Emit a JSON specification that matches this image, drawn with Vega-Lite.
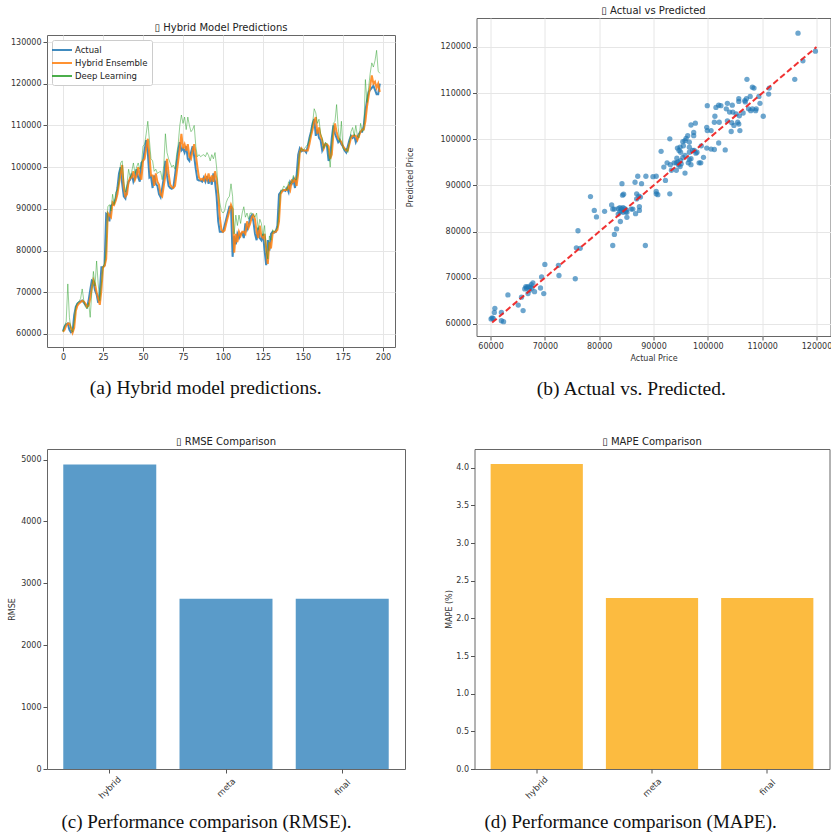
{
"$schema":"https://vega.github.io/schema/vega-lite/v6.json",
"background":"white",
"padding":{"left":6,"top":5,"right":0,"bottom":0},
"config":{
 "font":"DejaVu Sans",
 "view":{"stroke":"#666666","strokeWidth":1},
 "axis":{"labelFont":"DejaVu Sans","labelFontSize":8,"labelColor":"#333333","tickColor":"#555555","tickSize":4,"labelPadding":2,"domain":false,"gridColor":"#e6e6e6","titleFont":"DejaVu Sans","titleFontSize":8,"titleFontWeight":"normal","titleColor":"#333333"},
 "title":{"font":"DejaVu Sans","fontSize":10,"fontWeight":"normal","color":"#222222"}
},
"datasets":{
"ts":[
{"t":0,"a":60700,"h":60500,"d":60500},{"t":1,"a":61800,"h":61000,"d":62000},{"t":2,"a":62300,"h":62000,"d":63000},{"t":3,"a":62500,"h":62500,"d":72000},{"t":4,"a":61000,"h":62500,"d":64000},{"t":5,"a":60400,"h":61500,"d":61000},{"t":6,"a":60600,"h":60300,"d":60500},{"t":7,"a":64500,"h":61500,"d":63000},{"t":8,"a":66500,"h":65500,"d":66500},{"t":9,"a":67300,"h":66800,"d":67500},
{"t":10,"a":67600,"h":67300,"d":67800},{"t":11,"a":67800,"h":67600,"d":68500},{"t":12,"a":68000,"h":68000,"d":70800},{"t":13,"a":67500,"h":67800,"d":68000},{"t":14,"a":67000,"h":67300,"d":66500},{"t":15,"a":66500,"h":66500,"d":66000},{"t":16,"a":68000,"h":66800,"d":67500},{"t":17,"a":70500,"h":68500,"d":64000},{"t":18,"a":72800,"h":71000,"d":70000},{"t":19,"a":72500,"h":73000,"d":75000},
{"t":20,"a":70500,"h":72000,"d":71500},{"t":21,"a":69500,"h":70000,"d":77500},{"t":22,"a":67500,"h":68500,"d":72000},{"t":23,"a":70000,"h":67000,"d":68000},{"t":24,"a":76000,"h":70500,"d":72000},{"t":25,"a":76000,"h":76000,"d":76000},{"t":26,"a":76500,"h":76300,"d":77000},{"t":27,"a":88800,"h":78000,"d":80000},{"t":28,"a":88500,"h":89000,"d":90500},{"t":29,"a":87000,"h":88500,"d":91000},
{"t":30,"a":90800,"h":88000,"d":89500},{"t":31,"a":91000,"h":91500,"d":93500},{"t":32,"a":91500,"h":91000,"d":91000},{"t":33,"a":92500,"h":92000,"d":94000},{"t":34,"a":95000,"h":93500,"d":94500},{"t":35,"a":98500,"h":96000,"d":96500},{"t":36,"a":100000,"h":98500,"d":101000},{"t":37,"a":96000,"h":100500,"d":101500},{"t":38,"a":93000,"h":95000,"d":96500},{"t":39,"a":92500,"h":93000,"d":94000},
{"t":40,"a":95000,"h":93500,"d":96000},{"t":41,"a":96500,"h":96500,"d":99500},{"t":42,"a":97000,"h":97500,"d":97500},{"t":43,"a":98500,"h":97500,"d":99000},{"t":44,"a":96500,"h":99000,"d":101000},{"t":45,"a":97500,"h":97000,"d":98500},{"t":46,"a":99500,"h":98000,"d":100000},{"t":47,"a":97500,"h":100000,"d":101000},{"t":48,"a":96500,"h":98000,"d":99500},{"t":49,"a":101000,"h":97000,"d":100500},
{"t":50,"a":101500,"h":101500,"d":105000},{"t":51,"a":104000,"h":102000,"d":105500},{"t":52,"a":106500,"h":104500,"d":108000},{"t":53,"a":103500,"h":106800,"d":111000},{"t":54,"a":97500,"h":103000,"d":106500},{"t":55,"a":97800,"h":98000,"d":102000},{"t":56,"a":95000,"h":98000,"d":101500},{"t":57,"a":98000,"h":95500,"d":99000},{"t":58,"a":96000,"h":98500,"d":99500},{"t":59,"a":95500,"h":96500,"d":98500},
{"t":60,"a":93500,"h":95800,"d":98800},{"t":61,"a":92800,"h":93500,"d":99000},{"t":62,"a":95000,"h":93000,"d":97000},{"t":63,"a":97500,"h":95500,"d":100500},{"t":64,"a":101500,"h":98000,"d":108000},{"t":65,"a":98000,"h":102000,"d":103500},{"t":66,"a":95500,"h":98500,"d":102000},{"t":67,"a":95000,"h":95800,"d":101000},{"t":68,"a":94800,"h":95200,"d":100000},{"t":69,"a":95200,"h":95000,"d":100500},
{"t":70,"a":98000,"h":95500,"d":99500},{"t":71,"a":101000,"h":98500,"d":103000},{"t":72,"a":104000,"h":101500,"d":105500},{"t":73,"a":106000,"h":104500,"d":110000},{"t":74,"a":104000,"h":108000,"d":112500},{"t":75,"a":104500,"h":104500,"d":110500},{"t":76,"a":103500,"h":105500,"d":112000},{"t":77,"a":105000,"h":104000,"d":109000},{"t":78,"a":102000,"h":105500,"d":112000},{"t":79,"a":101500,"h":102500,"d":110000},
{"t":80,"a":103500,"h":102000,"d":108500},{"t":81,"a":105000,"h":104000,"d":109000},{"t":82,"a":102500,"h":105500,"d":110000},{"t":83,"a":99500,"h":103000,"d":105000},{"t":84,"a":97000,"h":100000,"d":102500},{"t":85,"a":96800,"h":97500,"d":103000},{"t":86,"a":96800,"h":97000,"d":102500},{"t":87,"a":96500,"h":97200,"d":102800},{"t":88,"a":97500,"h":96800,"d":103000},{"t":89,"a":96500,"h":98000,"d":102500},
{"t":90,"a":97800,"h":97000,"d":103500},{"t":91,"a":96000,"h":98500,"d":102800},{"t":92,"a":97500,"h":96500,"d":101500},{"t":93,"a":95800,"h":98000,"d":103000},{"t":94,"a":98500,"h":96500,"d":102000},{"t":95,"a":96500,"h":99000,"d":103500},{"t":96,"a":93000,"h":97000,"d":100000},{"t":97,"a":87000,"h":93500,"d":95000},{"t":98,"a":84500,"h":88000,"d":91500},{"t":99,"a":84500,"h":85000,"d":89500},
{"t":100,"a":84500,"h":84500,"d":89000},{"t":101,"a":86000,"h":84800,"d":89500},{"t":102,"a":87500,"h":86500,"d":91500},{"t":103,"a":89000,"h":88000,"d":92500},{"t":104,"a":90500,"h":89500,"d":93000},{"t":105,"a":90500,"h":91000,"d":96000},{"t":106,"a":78500,"h":90000,"d":93000},{"t":107,"a":83500,"h":79500,"d":84000},{"t":108,"a":81500,"h":84000,"d":88500},{"t":109,"a":84000,"h":82000,"d":86000},
{"t":110,"a":83000,"h":84500,"d":88500},{"t":111,"a":84000,"h":83500,"d":86500},{"t":112,"a":84200,"h":84500,"d":89000},{"t":113,"a":83000,"h":84500,"d":90500},{"t":114,"a":86500,"h":84000,"d":88000},{"t":115,"a":85000,"h":87000,"d":89000},{"t":116,"a":86000,"h":85500,"d":87500},{"t":117,"a":88000,"h":86500,"d":89000},{"t":118,"a":88500,"h":88000,"d":89000},{"t":119,"a":87000,"h":88500,"d":88500},
{"t":120,"a":84000,"h":87500,"d":88000},{"t":121,"a":82500,"h":84500,"d":89000},{"t":122,"a":85500,"h":83000,"d":85000},{"t":123,"a":83000,"h":86000,"d":87500},{"t":124,"a":82500,"h":83500,"d":86500},{"t":125,"a":84000,"h":83000,"d":83500},{"t":126,"a":80000,"h":84000,"d":86000},{"t":127,"a":76500,"h":80500,"d":80000},{"t":128,"a":82500,"h":76800,"d":78000},{"t":129,"a":80000,"h":82000,"d":83500},
{"t":130,"a":84000,"h":80500,"d":82500},{"t":131,"a":84500,"h":84000,"d":85000},{"t":132,"a":84300,"h":84500,"d":84500},{"t":133,"a":84500,"h":84500,"d":85000},{"t":134,"a":86000,"h":85000,"d":85500},{"t":135,"a":93500,"h":87000,"d":89000},{"t":136,"a":94000,"h":93500,"d":94500},{"t":137,"a":94300,"h":94200,"d":94500},{"t":138,"a":94500,"h":94500,"d":95500},{"t":139,"a":94300,"h":94500,"d":95000},
{"t":140,"a":95000,"h":94500,"d":94500},{"t":141,"a":94000,"h":95500,"d":96500},{"t":142,"a":96500,"h":94500,"d":96000},{"t":143,"a":96000,"h":96800,"d":96500},{"t":144,"a":97000,"h":96500,"d":98000},{"t":145,"a":95000,"h":97200,"d":97000},{"t":146,"a":98000,"h":95500,"d":97000},{"t":147,"a":103000,"h":98500,"d":100000},{"t":148,"a":104500,"h":103500,"d":103500},{"t":149,"a":103800,"h":104500,"d":104500},
{"t":150,"a":104000,"h":104000,"d":104000},{"t":151,"a":104000,"h":104000,"d":104500},{"t":152,"a":103500,"h":104000,"d":105000},{"t":153,"a":105000,"h":104000,"d":105500},{"t":154,"a":107000,"h":105500,"d":106500},{"t":155,"a":108500,"h":107500,"d":108500},{"t":156,"a":110500,"h":109000,"d":110500},{"t":157,"a":111500,"h":111000,"d":114000},{"t":158,"a":107500,"h":112000,"d":113000},{"t":159,"a":109000,"h":108000,"d":110500},
{"t":160,"a":107000,"h":109500,"d":111500},{"t":161,"a":106500,"h":107500,"d":108000},{"t":162,"a":104000,"h":106500,"d":107000},{"t":163,"a":105000,"h":104500,"d":104500},{"t":164,"a":105500,"h":105500,"d":106000},{"t":165,"a":105000,"h":105500,"d":105500},{"t":166,"a":101500,"h":105000,"d":103500},{"t":167,"a":102500,"h":102000,"d":100000},{"t":168,"a":107000,"h":103000,"d":105500},{"t":169,"a":110000,"h":108000,"d":110500},
{"t":170,"a":108000,"h":110500,"d":111000},{"t":171,"a":107000,"h":108500,"d":115000},{"t":172,"a":106000,"h":107000,"d":109500},{"t":173,"a":106500,"h":106500,"d":106000},{"t":174,"a":105500,"h":106000,"d":111000},{"t":175,"a":105000,"h":105000,"d":104500},{"t":176,"a":104000,"h":104500,"d":104000},{"t":177,"a":103500,"h":104000,"d":104500},{"t":178,"a":105000,"h":104000,"d":103500},{"t":179,"a":106500,"h":105500,"d":106000},
{"t":180,"a":107500,"h":107000,"d":108500},{"t":181,"a":107000,"h":107500,"d":109500},{"t":182,"a":107500,"h":107500,"d":107500},{"t":183,"a":106000,"h":107500,"d":110000},{"t":184,"a":107000,"h":106500,"d":107500},{"t":185,"a":108000,"h":107500,"d":107000},{"t":186,"a":108500,"h":108500,"d":110500},{"t":187,"a":108500,"h":109000,"d":108500},{"t":188,"a":110000,"h":109000,"d":109000},{"t":189,"a":113500,"h":111000,"d":121000},
{"t":190,"a":116000,"h":114500,"d":115500},{"t":191,"a":118000,"h":117000,"d":119000},{"t":192,"a":118500,"h":119500,"d":122500},{"t":193,"a":119000,"h":122000,"d":125000},{"t":194,"a":119500,"h":120000,"d":124000},{"t":195,"a":118500,"h":120500,"d":125500},{"t":196,"a":117500,"h":119000,"d":128000},{"t":197,"a":117500,"h":120000,"d":123000},{"t":198,"a":120000,"h":118000,"d":122500}
],
"sc":[
{"x":116600,"y":123000},{"x":119800,"y":119100},{"x":117500,"y":117000},{"x":116000,"y":113000},{"x":107200,"y":113000},{"x":108200,"y":111300},{"x":108500,"y":111100},{"x":111300,"y":111100},{"x":111200,"y":109800},{"x":109400,"y":109300},
{"x":107800,"y":109300},{"x":107100,"y":108800},{"x":106800,"y":108400},{"x":106900,"y":108100},{"x":105700,"y":108800},{"x":105700,"y":108200},{"x":99900,"y":107300},{"x":102000,"y":107400},{"x":102400,"y":107300},{"x":103600,"y":107800},
{"x":104500,"y":107400},{"x":109600,"y":107800},{"x":108900,"y":106600},{"x":108800,"y":106200},{"x":110200,"y":105000},{"x":101500,"y":106900},{"x":101300,"y":105000},{"x":103400,"y":106600},{"x":104000,"y":105900},{"x":104600,"y":105900},
{"x":105200,"y":105500},{"x":105800,"y":105100},{"x":106500,"y":105700},{"x":107500,"y":106600},{"x":107900,"y":106200},{"x":108200,"y":106600},{"x":104400,"y":103600},{"x":104800,"y":103000},{"x":104300,"y":101700},{"x":103600,"y":104000},
{"x":105500,"y":103700},{"x":105700,"y":103300},{"x":105900,"y":101900},{"x":102100,"y":103700},{"x":101200,"y":103700},{"x":99800,"y":102600},{"x":99900,"y":101900},{"x":100600,"y":101900},{"x":96900,"y":103100},{"x":97700,"y":103500},
{"x":97400,"y":101500},{"x":97400,"y":100800},{"x":96000,"y":100200},{"x":96300,"y":100800},{"x":95800,"y":99700},{"x":95400,"y":99500},{"x":95500,"y":98600},{"x":94900,"y":98300},{"x":96600,"y":99400},{"x":96600,"y":98300},
{"x":94400,"y":98100},{"x":94700,"y":97600},{"x":95000,"y":97200},{"x":96600,"y":97200},{"x":97200,"y":97600},{"x":97500,"y":97600},{"x":98000,"y":97200},{"x":97800,"y":97000},{"x":99800,"y":98100},{"x":100600,"y":97900},
{"x":101200,"y":97800},{"x":103200,"y":97700},{"x":102000,"y":99200},{"x":93000,"y":100100},{"x":98800,"y":98600},{"x":99200,"y":96100},{"x":91400,"y":97400},{"x":94300,"y":95900},{"x":95000,"y":95400},{"x":94500,"y":95100},
{"x":95400,"y":96100},{"x":95800,"y":96500},{"x":96600,"y":95600},{"x":96900,"y":95800},{"x":92500,"y":94900},{"x":93100,"y":94500},{"x":91900,"y":94000},{"x":93800,"y":94900},{"x":94200,"y":94900},{"x":95100,"y":94700},
{"x":94600,"y":94500},{"x":94900,"y":94100},{"x":96400,"y":94900},{"x":96900,"y":94500},{"x":98400,"y":94900},{"x":98700,"y":94900},{"x":93300,"y":93300},{"x":94200,"y":93300},{"x":95800,"y":92700},{"x":93000,"y":88200},
{"x":90500,"y":88200},{"x":90800,"y":88000},{"x":90500,"y":88700},{"x":89900,"y":91900},{"x":90500,"y":92000},{"x":88600,"y":92000},{"x":87100,"y":92000},{"x":86600,"y":90700},{"x":92200,"y":91100},{"x":87800,"y":90400},
{"x":86900,"y":88200},{"x":87300,"y":87700},{"x":87600,"y":87500},{"x":86900,"y":87100},{"x":84200,"y":90400},{"x":84300,"y":87900},{"x":84500,"y":88100},{"x":78400,"y":87600},{"x":79100,"y":84600},{"x":81000,"y":84400},
{"x":79500,"y":83200},{"x":82300,"y":85800},{"x":82500,"y":84900},{"x":82800,"y":84900},{"x":83500,"y":85000},{"x":83800,"y":85200},{"x":84100,"y":85000},{"x":84400,"y":85200},{"x":84700,"y":85000},{"x":85000,"y":84700},
{"x":84100,"y":84500},{"x":83500,"y":83800},{"x":83800,"y":84300},{"x":84400,"y":84200},{"x":84900,"y":84300},{"x":85900,"y":84900},{"x":85100,"y":84200},{"x":86200,"y":84900},{"x":87400,"y":85400},{"x":87400,"y":84600},
{"x":86700,"y":83900},{"x":85100,"y":83100},{"x":83900,"y":82200},{"x":83200,"y":80600},{"x":82800,"y":79400},{"x":82500,"y":77000},{"x":88500,"y":77000},{"x":76100,"y":80200},{"x":75800,"y":76500},{"x":76500,"y":76400},
{"x":75600,"y":69800},{"x":72500,"y":72700},{"x":72600,"y":70500},{"x":70000,"y":72900},{"x":69400,"y":70200},{"x":69200,"y":67800},{"x":69800,"y":66600},{"x":67500,"y":68500},{"x":67800,"y":68900},{"x":67300,"y":68000},
{"x":66900,"y":68100},{"x":66500,"y":68100},{"x":66300,"y":67600},{"x":66600,"y":67800},{"x":66900,"y":66600},{"x":68100,"y":67000},{"x":67600,"y":67800},{"x":67200,"y":67300},{"x":65700,"y":65800},{"x":65100,"y":64100},
{"x":63200,"y":66300},{"x":66000,"y":62900},{"x":60800,"y":63400},{"x":60700,"y":62500},{"x":60300,"y":61300},{"x":60100,"y":61100},{"x":60500,"y":61200},{"x":62000,"y":62500},{"x":62000,"y":60700},{"x":62400,"y":60500}
],
"diag":[{"x":60300,"y":60300},{"x":120000,"y":120000}],
"perf":[{"model":"hybrid","rmse":4920,"mape":4.05},{"model":"meta","rmse":2750,"mape":2.27},{"model":"final","rmse":2750,"mape":2.27}],
"empty":[]
},
"spacing":38,
"vconcat":[
{"hconcat":[
 {"vconcat":[
  {"width":348,"height":4,"data":{"name":"empty"},"mark":{"type":"point"},"encoding":{},"view":{"stroke":null}},
  {
  "width":348,"height":312,
  "title":{"text":"▯ Hybrid Model Predictions","frame":"group","offset":2},
  "data":{"name":"ts"},
  "transform":[{"fold":["a","h","d"],"as":["series","price"]}],
  "mark":{"type":"line"},
  "encoding":{
   "x":{"field":"t","type":"quantitative","scale":{"domain":[-10,207.5],"nice":false,"zero":false},"axis":{"values":[0,25,50,75,100,125,150,175,200],"title":null,"grid":true}},
   "y":{"field":"price","type":"quantitative","scale":{"domain":[56880,131680],"nice":false,"zero":false},"axis":{"values":[60000,70000,80000,90000,100000,110000,120000,130000],"format":"d","title":null,"grid":true,"minExtent":40.5}},
   "color":{"field":"series","type":"nominal","scale":{"domain":["a","h","d"],"range":["#1f77b4","#ff7f0e","#2ca02c"]},
     "legend":{"title":null,"orient":"top-left","offset":5,"fillColor":"white","strokeColor":"#cccccc","padding":4,"cornerRadius":2,"symbolType":"M-2,0H2","symbolSize":100,"symbolStrokeWidth":2,"labelFontSize":8.5,"labelColor":"#222222","rowPadding":2,"labelOffset":7,
       "labelExpr":"datum.label == 'a' ? 'Actual' : datum.label == 'h' ? 'Hybrid Ensemble' : 'Deep Learning'",
       "encode":{"symbols":{"update":{"strokeWidth":{"signal":"datum.value == 'd' ? 1 : 2"},"opacity":{"signal":"datum.value == 'd' ? 0.5 : 0.9"}}}}}},
   "strokeWidth":{"condition":{"test":"datum.series == 'd'","value":1},"value":2},
   "opacity":{"condition":{"test":"datum.series == 'd'","value":0.5},"value":0.85}
  }
 }],
 "spacing":0,
 "resolve":{"legend":{"color":"independent","strokeWidth":"independent","opacity":"independent"},"scale":{"color":"independent"}},
 "title":{"text":"(a)  Hybrid model predictions.","orient":"bottom","anchor":"middle","frame":"bounds","font":"Liberation Serif","fontSize":19.5,"color":"#111111","offset":17,"dx":5}},
 {"vconcat":[{
  "width":354,"height":318,
  "title":{"text":"▯ Actual vs Predicted","frame":"group","offset":2},
  "layer":[
   {"data":{"name":"sc"},"mark":{"type":"circle","size":28,"opacity":0.65,"color":"#1f77b4"},
    "encoding":{
     "x":{"field":"x","type":"quantitative","scale":{"domain":[57420,122580],"nice":false,"zero":false},"axis":{"values":[60000,70000,80000,90000,100000,110000,120000],"format":"d","title":"Actual Price","grid":true,"titlePadding":4}},
     "y":{"field":"y","type":"quantitative","scale":{"domain":[57400,126280],"nice":false,"zero":false},"axis":{"values":[60000,70000,80000,90000,100000,110000,120000],"format":"d","title":"Predicted Price","grid":true,"titlePadding":25}}}},
   {"data":{"name":"diag"},"mark":{"type":"line","color":"#ee1c1c","strokeWidth":2,"strokeDash":[6,3],"opacity":0.9},
    "encoding":{"x":{"field":"x","type":"quantitative"},"y":{"field":"y","type":"quantitative"}}}
  ]
 }],
 "title":{"text":"(b)  Actual vs. Predicted.","orient":"bottom","anchor":"middle","frame":"bounds","font":"Liberation Serif","fontSize":19.5,"color":"#111111","offset":17,"dx":12}}
],"spacing":9.5},
{"hconcat":[
 {"vconcat":[{
  "width":358,"height":320,
  "title":{"text":"▯ RMSE Comparison","frame":"group","offset":2},
  "data":{"name":"perf"},
  "mark":{"type":"bar","color":"#5a9bc9"},
  "encoding":{
   "x":{"field":"model","type":"nominal","sort":null,"scale":{"paddingInner":0.2,"paddingOuter":0.14},"axis":{"title":null,"labelAngle":-45,"labelAlign":"center","labelBaseline":"middle","labelPadding":14,"labelFontSize":8.5,"grid":false}},
   "y":{"field":"rmse","type":"quantitative","scale":{"domain":[0,5170],"nice":false},"axis":{"values":[0,1000,2000,3000,4000,5000],"format":"d","title":"RMSE","grid":false,"titlePadding":4,"minExtent":27}}
  }
 }],
 "title":{"text":"(c)  Performance comparison (RMSE).","orient":"bottom","anchor":"middle","frame":"bounds","font":"Liberation Serif","fontSize":19,"color":"#111111","offset":13}},
 {"vconcat":[{
  "width":355,"height":320,
  "title":{"text":"▯ MAPE Comparison","frame":"group","offset":2},
  "data":{"name":"perf"},
  "mark":{"type":"bar","color":"#fcbb40"},
  "encoding":{
   "x":{"field":"model","type":"nominal","sort":null,"scale":{"paddingInner":0.2,"paddingOuter":0.14},"axis":{"title":null,"labelAngle":-45,"labelAlign":"center","labelBaseline":"middle","labelPadding":14,"labelFontSize":8.5,"grid":false}},
   "y":{"field":"mape","type":"quantitative","scale":{"domain":[0,4.25],"nice":false},"axis":{"values":[0,0.5,1,1.5,2,2.5,3,3.5,4],"format":".1f","title":"MAPE (%)","grid":false,"titlePadding":2}}
  }
 }],
 "title":{"text":"(d)  Performance comparison (MAPE).","orient":"bottom","anchor":"middle","frame":"bounds","font":"Liberation Serif","fontSize":19,"color":"#111111","offset":13,"dx":-7}}
],"spacing":38.5}
]
}
